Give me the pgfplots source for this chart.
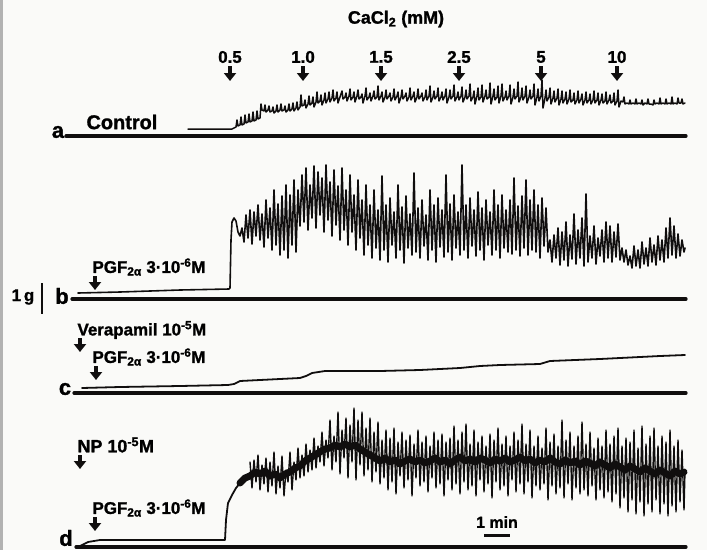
\documentclass[border=0pt]{standalone}
\usepackage{fontspec}
\setmainfont{Liberation Sans}[BoldFeatures={FakeBold=1.3}]
\usepackage{pgfplots}
\pgfplotsset{compat=1.18}
\usetikzlibrary{arrows.meta}
\definecolor{paper}{RGB}{250,250,248}
\definecolor{ink}{RGB}{16,14,14}
\newcommand\lab[1][16]{\fontsize{#1}{#1}\selectfont\bfseries}
\tikzset{down/.style={draw=ink, line width=3.6pt, -{Triangle[width=12pt,length=8pt]}}}

\begin{document}
\begin{tikzpicture}
\path[use as bounding box] (0,0) rectangle (707bp,550bp);
\clip (0,0) rectangle (707bp,550bp);
\begin{axis}[
    width=707bp, height=550bp, scale only axis,
    xmin=0, xmax=707, ymin=0, ymax=550, y dir=reverse,
    hide axis, clip=false,
    every axis plot/.append style={ink, line width=1.1pt, line join=round, line cap=round, mark=none},
]
\fill[paper] (axis cs:0,0) rectangle (axis cs:707,550);
\fill[gray!60] (axis cs:0,0) rectangle (axis cs:3,550);

% zero lines of the four recordings
\addplot[line width=3.2pt] coordinates {(66,136) (686,136)};
\addplot[line width=3.2pt] coordinates {(72,299) (686,299)};
\addplot[line width=3.2pt] coordinates {(74,393) (686,393)};
\addplot[line width=3.2pt] coordinates {(76,547) (686,547)};

% a: control
\addplot[line width=1.5pt] coordinates {
(188,129)(232,129)(234,128)(236,127)(237,120)(238,126)(240,125)(241,117)(242,125)(244,124)(245,115)(246,123)(248,122)(249,114)(250,122)(252,121)(253,112)(254,121)(256,120)(257,111)(258,119)
(260,118)(261,104)(262,110)(264,111)(265,105)(266,112)(268,110)(269,106)(270,112)(272,111)(273,107)(274,113)(276,111)(277,105)(278,112)(280,110)(281,104)(282,111)(284,110)(285,106)(286,112)(288,110)(289,104)(290,111)(292,109)(293,103)(294,111)(296,108)(297,102)(298,110)(300,107)
(301,95)(302,106)(304,105)(305,100)(306,108)(308,104)(309,96)(310,105)(312,103)(313,97)(314,107)(316,102)(317,92)(318,103)(320,101)(321,95)(322,105)(324,100)(325,93)(326,103)(328,99)(329,92)(330,102)(332,98)(333,90)(334,101)(336,98)(337,92)(338,103)(340,97)
(342,91)(343,99)(345,97)(346,93)(347,101)(349,96)(350,89)(351,100)(353,97)(354,92)(355,102)(357,96)(358,90)(359,99)(361,97)(362,94)(363,103)(365,96)(366,88)(367,100)(369,97)(370,93)(371,101)(373,96)(374,91)(375,99)(377,97)(378,86)(379,100)(381,96)(382,92)(383,102)(385,97)(386,90)(387,99)(389,96)(390,93)(391,101)(393,97)(394,89)(395,100)(397,96)(398,92)(399,103)
(401,97)(402,90)(403,99)(405,96)(406,93)(407,101)(409,97)(410,88)(411,100)(413,96)(414,92)(415,102)(417,97)(418,89)(419,99)(421,96)(422,93)(423,101)(425,97)(426,90)(427,100)(429,96)(430,86)(431,102)(433,97)(434,91)(435,99)(437,96)(438,88)(439,101)(441,97)(442,92)(443,100)(445,96)(446,89)(447,103)(449,97)(450,90)(451,99)(453,96)(454,85)(455,101)(457,97)(458,92)(459,100)
(461,96)(462,87)(463,102)(465,97)(466,90)(467,99)(469,96)(470,84)(471,101)(473,97)(474,91)(475,104)(477,96)(478,88)(479,100)(481,97)(482,85)(483,102)(485,96)(486,90)(487,99)(489,97)(490,83)(491,104)(493,96)(494,89)(495,100)(497,97)(498,86)(499,103)(501,96)(502,84)(503,101)(505,97)(506,91)(507,100)(509,96)(510,85)(511,104)(513,97)(514,89)(515,99)(517,96)(518,82)(519,102)
(521,97)(522,88)(523,100)(525,96)(526,86)(527,103)(529,97)(530,90)(531,99)(533,96)(534,84)(535,105)(537,97)(538,89)(539,101)(541,96)(542,80)(543,108)(545,98)(546,90)(547,101)(549,97)(550,88)(551,104)(553,98)(554,91)(555,102)(557,98)(558,89)(559,105)
(561,99)(562,91)(563,103)(565,99)(566,92)(567,104)(569,99)(570,90)(571,102)(573,100)(574,93)(575,104)(577,100)(578,91)(579,103)(581,99)(582,94)(583,105)(585,100)(586,92)(587,103)(589,100)(590,94)(591,104)(593,100)(594,91)(595,103)(597,100)(598,93)(599,105)(601,100)(602,94)(603,103)(605,101)(606,92)(607,104)(609,100)(610,95)(611,103)(613,101)(614,93)(615,105)(617,101)(618,90)(619,107)(621,101)
(623,102)(624,97)(625,104)(627,103)(629,104)(630,100)(631,104)(633,103)(635,104)(636,99)(637,104)(639,103)(641,104)(642,100)(643,105)(645,103)(647,104)(648,99)(649,104)(651,104)(653,105)(654,100)(655,104)(657,103)(659,104)(660,98)(661,104)(663,103)(665,104)(666,99)(667,104)(669,103)(671,104)(672,97)(673,104)(675,103)(677,104)(678,98)(679,103)(681,103)(682,99)(683,104)(685,103)
};

% b: PGF2a
\addplot[line width=1.6pt] coordinates {
(78,293)(120,292)(180,290)(229,289)(230,288)(231,240)(232,222)(234,218)(236,221)(238,232)(240,236)(242,228)
(244,242)(246,215)(248,238)(250,210)(252,244)(254,212)(256,236)(258,205)(260,240)(262,214)(264,247)(266,200)(268,238)(270,208)(272,250)(274,190)(276,245)(278,204)(280,255)(282,196)(284,250)(286,185)(288,258)(290,195)(292,245)(294,180)(296,252)(298,190)
(300,226)(302,175)(304,222)(306,168)(308,230)(310,185)(312,218)(314,166)(316,228)(318,172)(320,215)(322,178)(324,232)(326,165)(328,220)(330,182)(332,236)(334,170)(336,225)(338,186)(340,240)(342,168)(344,230)(346,190)(348,245)(350,175)(352,232)(354,195)(356,250)(358,180)(360,238)(362,200)(364,255)(366,185)
(368,245)(370,205)(372,258)(374,190)(376,248)(378,210)(380,260)(382,176)(384,250)(386,205)(388,262)(390,198)(392,245)(394,212)(396,258)(398,185)(400,250)(402,207)(404,263)(406,196)(408,248)(410,214)(412,255)(414,173)(416,252)(418,208)(420,258)(422,200)(424,246)(426,215)(428,260)(430,190)(432,250)(434,205)(436,262)(438,198)(440,247)(442,210)(444,257)(446,175)(448,252)(450,204)(452,260)(454,195)(456,248)
(458,212)(460,255)(462,165)(464,250)(466,205)(468,258)(470,198)(472,246)(474,210)(476,256)(478,192)(480,250)(482,208)(484,260)(486,200)(488,245)(490,212)(492,255)(494,190)(496,250)(498,205)(500,258)(502,195)(504,248)(506,210)(508,252)(510,200)(512,254)(514,178)(516,250)(518,206)(520,256)(522,196)(524,248)(526,180)(528,255)(530,200)(532,250)(534,190)(536,252)(538,205)(540,258)(542,198)(544,246)(546,208)(548,252)
(550,240)(552,262)(554,235)(556,258)(558,228)(560,265)(562,232)(564,260)(566,222)(568,266)(570,235)(572,259)(574,214)(576,264)(578,230)(580,258)(582,218)(584,266)(586,194)(588,262)(590,236)(592,258)(594,226)(596,264)(598,238)(600,256)(602,230)(604,262)(606,222)(608,258)(610,226)(612,262)(614,232)(616,257)(618,224)(620,260)
(622,248)(624,262)(626,250)(628,265)(630,256)(632,268)(634,246)(636,266)(638,250)(640,268)(642,242)(644,264)(646,248)(648,266)(650,238)(652,262)(654,245)(656,265)(658,236)(660,260)(662,240)(664,262)(666,228)(668,258)(670,218)(672,255)(674,226)(676,258)(678,234)(680,256)(682,240)(684,252)(685,248)
};

% c: verapamil + PGF2a
\addplot[line width=1.8pt] coordinates {
(82,388)(120,387)(180,386)(228,385)(234,384)(240,381)(260,380)(300,378)(306,376)(312,373)(325,371)(380,371)(420,370)(460,368)(480,366)(500,365)(540,364)(550,361)(600,359)(640,357)(660,356)(685,355)
};

% d: NP + PGF2a
\addplot[line width=1.8pt] coordinates {
(80,546)(88,542)(100,540)(225,540)(226,520)(228,503)(232,495)(236,488)(240,483)(244,478)(248,474)
};
\addplot[line width=7pt] coordinates {
(240,483)(245,478)(250,476)(255,472)(260,474)(265,471)(270,476)(275,474)(280,478)(285,474)(290,472)(295,468)(300,466)(305,461)(310,458)(315,455)(320,452)(325,449)(330,448)(335,445)(340,447)(345,444)(350,447)(355,445)(360,449)(365,452)(370,455)(375,458)(380,461)(385,458)(390,462)(395,460)(400,464)(405,461)(410,459)(415,462)(420,460)(425,463)(430,461)(435,458)(440,462)(445,460)(450,464)(455,460)(460,457)(465,461)(470,459)(475,462)(480,458)(485,460)(490,463)(495,459)(500,461)(505,458)(510,462)(515,460)(520,457)(525,461)(530,459)(535,463)(540,460)(545,462)(550,458)(555,462)(560,464)(565,460)(570,463)(575,461)(580,465)(585,461)(590,463)(595,466)(600,462)(605,465)(610,468)(615,464)(620,467)(625,470)(630,466)(635,469)(640,472)(645,468)(650,471)(655,474)(660,470)(665,473)(670,476)(675,471)(680,474)(684,472)
};
\addplot[line width=1.4pt] coordinates {
(250,462)(252,488)(254,460)(256,482)(258,455)(260,490)(262,465)(264,484)(266,458)(268,492)(270,462)(272,486)(274,452)(276,494)(278,466)(280,488)(282,456)(284,496)(286,470)(288,482)(290,452)(292,490)(294,462)(296,480)(298,448)
(300,478)(302,455)(304,476)(306,444)(308,472)(310,450)(312,470)(314,438)(316,468)(318,446)(320,462)(322,432)(324,466)(326,440)(328,458)(330,420)(332,470)(334,436)(336,462)(338,412)(340,474)(342,430)(344,458)(346,418)(348,478)(350,425)(352,462)(354,408)(356,480)(358,420)(360,465)(362,412)(364,476)(366,428)(368,470)(370,418)(372,482)(374,432)(376,472)(378,422)
(380,484)(382,440)(384,478)(386,430)(388,490)(390,438)(392,482)(394,428)(396,494)(398,442)(400,476)(402,432)(404,488)(406,440)(408,480)(410,435)(412,496)(414,444)(416,478)(418,430)(420,486)(422,442)(424,482)(426,436)(428,492)(430,446)(432,478)(434,432)(436,488)(438,440)(440,484)(442,434)(444,496)(446,442)(448,480)(450,438)(452,490)(454,426)(456,484)(458,440)
(460,494)(462,432)(464,482)(466,424)(468,490)(470,444)(472,486)(474,430)(476,496)(478,442)(480,480)(482,436)(484,492)(486,446)(488,484)(490,434)(492,498)(494,440)(496,482)(498,428)(500,490)(502,444)(504,486)(506,436)(508,496)(510,446)(512,480)(514,432)(516,492)(518,440)(520,484)(522,424)(524,494)(526,444)(528,482)(530,430)(532,498)(534,446)(536,486)(538,436)
(540,490)(542,448)(544,484)(546,428)(548,500)(550,442)(552,486)(554,434)(556,494)(558,446)(560,488)(562,420)(564,498)(566,440)(568,484)(570,432)(572,500)(574,446)(576,488)(578,436)(580,494)(582,422)(584,490)(586,444)(588,496)(590,432)(592,486)(594,448)(596,500)(598,438)
(600,490)(602,446)(604,498)(606,430)(608,492)(610,444)(612,502)(614,436)(616,494)(618,428)(620,508)(622,446)(624,498)(626,438)(628,512)(630,442)(632,500)(634,430)(636,514)(638,448)(640,502)(642,426)(644,516)(646,444)(648,504)(650,436)(652,512)(654,428)(656,500)(658,446)(660,514)(662,436)(664,504)(666,442)(668,516)(670,430)(672,506)(674,446)(676,512)(678,440)(680,502)(682,450)(684,510)(685,470)
};

% labels
\node[font={\lab[18]}] at (axis cs:396,19) {CaCl\textsubscript{2} (mM)};
\node[font={\lab[17]}] at (axis cs:230,57) {0.5};
\node[font={\lab[17]}] at (axis cs:303,57) {1.0};
\node[font={\lab[17]}] at (axis cs:381,57) {1.5};
\node[font={\lab[17]}] at (axis cs:459,57) {2.5};
\node[font={\lab[17]}] at (axis cs:541,57) {5};
\node[font={\lab[17]}] at (axis cs:617,57) {10};
\draw[down] (axis cs:230,66) -- (axis cs:230,81);
\draw[down] (axis cs:303,66) -- (axis cs:303,81);
\draw[down] (axis cs:381,66) -- (axis cs:381,81);
\draw[down] (axis cs:459,66) -- (axis cs:459,81);
\draw[down] (axis cs:541,66) -- (axis cs:541,81);
\draw[down] (axis cs:617,66) -- (axis cs:617,81);

\node[font={\lab[22]}] at (axis cs:58,132) {a};
\node[font={\lab[22]}] at (axis cs:62,296) {b};
\node[font={\lab[22]}] at (axis cs:65,389) {c};
\node[font={\lab[22]}] at (axis cs:66,538) {d};
\node[font={\lab[20]}, anchor=west] at (axis cs:83,122) {Control};

\node[font={\lab[17]}] at (axis cs:23,297) {1\,g};
\draw[ink, line width=2.4pt] (axis cs:42,283) -- (axis cs:42,314);

\node[font={\lab[17]}, anchor=west] at (axis cs:89,267) {PGF\textsubscript{2α} 3·10\textsuperscript{-6}M};
\draw[down] (axis cs:95,276) -- (axis cs:95,290);

\node[font={\lab[17]}, anchor=west] at (axis cs:74,330) {Verapamil 10\textsuperscript{-5}M};
\draw[down] (axis cs:80,338) -- (axis cs:80,352);
\node[font={\lab[17]}, anchor=west] at (axis cs:89,357) {PGF\textsubscript{2α} 3·10\textsuperscript{-6}M};
\draw[down] (axis cs:96,366) -- (axis cs:96,380);

\node[font={\lab[18]}, anchor=west] at (axis cs:74,445) {NP 10\textsuperscript{-5}M};
\draw[down] (axis cs:80,455) -- (axis cs:80,469);
\node[font={\lab[17]}, anchor=west] at (axis cs:89,508) {PGF\textsubscript{2α} 3·10\textsuperscript{-6}M};
\draw[down] (axis cs:95,517) -- (axis cs:95,531);

\node[font={\lab[16]}] at (axis cs:497,522) {1 min};
\draw[ink, line width=3pt] (axis cs:484,535) -- (axis cs:510,535);
\end{axis}
\end{tikzpicture}
\end{document}
